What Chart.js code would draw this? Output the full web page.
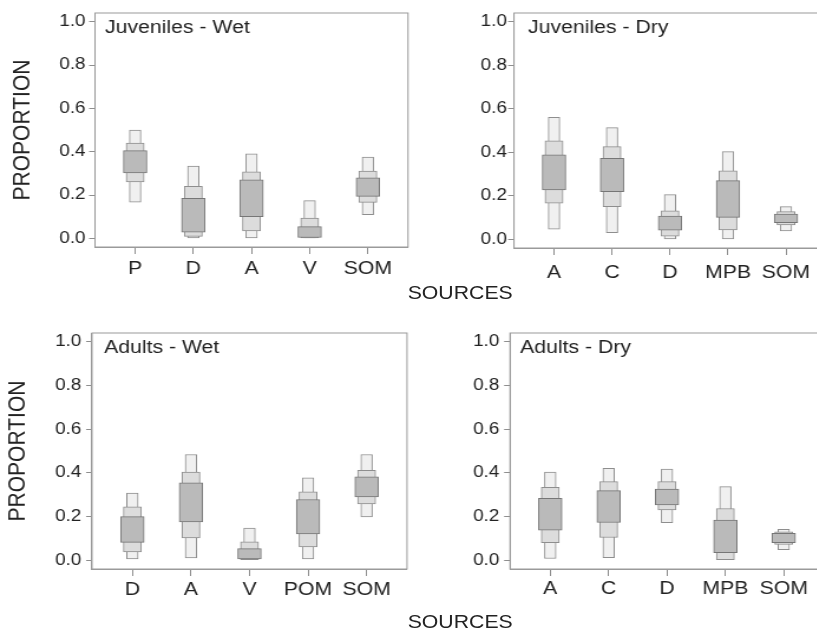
<!DOCTYPE html>
<html>
<head>
<meta charset="utf-8">
<title>Source proportions</title>
<script src="https://cdn.jsdelivr.net/npm/chart.js@4.4.0/dist/chart.umd.min.js"></script>
<style>
    html, body { margin: 0; padding: 0; background: #fff; width: 817px; height: 635px; overflow: hidden; }
    /* the original figure is stretched sideways, so the whole stage is too */
    #stage { position: absolute; left: 0; top: 0; width: 693px; height: 635px; transform: scaleX(1.18); transform-origin: 0 0; }
    .panel { position: absolute; }
    .xtitle { position: absolute; font: 18px "Liberation Sans", Arial, sans-serif; color: #222; transform: translate(-50%, -50%); white-space: nowrap; }
</style>
</head>
<body>
<div id="stage">
    <div class="panel" id="p1"><canvas id="c1"></canvas></div>
    <div class="panel" id="p2"><canvas id="c2"></canvas></div>
    <div class="panel" id="p3"><canvas id="c3"></canvas></div>
    <div class="panel" id="p4"><canvas id="c4"></canvas></div>
    <div class="xtitle" style="left:390px; top:293px">SOURCES</div>
    <div class="xtitle" style="left:390px; top:622px">SOURCES</div>
</div>
<script>
// credible intervals [low, high] per source: 95%, 75%, 50%
const jwSources = ["P", "D", "A", "V", "SOM"];
const jw95 = [[0.167, 0.50], [0.0, 0.333], [0.0, 0.39], [0.0, 0.174], [0.109, 0.375]];
const jw75 = [[0.26, 0.44], [0.009, 0.24], [0.034, 0.307], [0.002, 0.093], [0.166, 0.31]];
const jw50 = [[0.302, 0.405], [0.028, 0.185], [0.10, 0.27], [0.004, 0.054], [0.194, 0.279]];

const jdSources = ["A", "C", "D", "MPB", "SOM"];
const jd95 = [[0.046, 0.561], [0.03, 0.513], [0.0, 0.205], [0.0, 0.403], [0.038, 0.15]];
const jd75 = [[0.166, 0.453], [0.15, 0.426], [0.014, 0.131], [0.043, 0.315], [0.066, 0.127]];
const jd50 = [[0.227, 0.388], [0.219, 0.372], [0.042, 0.107], [0.101, 0.27], [0.076, 0.116]];

const awSources = ["D", "A", "V", "POM", "SOM"];
const aw95 = [[0.006, 0.308], [0.011, 0.484], [0.003, 0.147], [0.006, 0.377], [0.198, 0.484]];
const aw75 = [[0.038, 0.244], [0.102, 0.403], [0.003, 0.084], [0.061, 0.313], [0.258, 0.412]];
const aw50 = [[0.082, 0.20], [0.176, 0.354], [0.006, 0.053], [0.121, 0.278], [0.29, 0.382]];

const adSources = ["A", "C", "D", "MPB", "SOM"];
const ad95 = [[0.008, 0.403], [0.012, 0.421], [0.172, 0.417], [0.0, 0.337], [0.049, 0.142]];
const ad75 = [[0.081, 0.334], [0.104, 0.36], [0.23, 0.36], [0.003, 0.237], [0.072, 0.13]];
const ad50 = [[0.138, 0.283], [0.173, 0.319], [0.253, 0.326], [0.035, 0.184], [0.081, 0.123]];

const S = 1.18;
const FONT = '"Liberation Sans", Arial, sans-serif';
const TEXT = "#222";
const LINE = "#8e8e8e";

Chart.defaults.font.family = FONT;
Chart.defaults.color = TEXT;

const panelFrame = {
    id: "panelFrame",
    afterDraw(chart, args, opts) {
        const { ctx, chartArea: a } = chart;
        ctx.save();
        ctx.strokeStyle = "#9a9a9a";
        ctx.lineWidth = 1;
        ctx.strokeRect(a.left, a.top, a.right - a.left, a.bottom - a.top);
        ctx.font = "18px " + FONT;
        ctx.fillStyle = TEXT;
        ctx.textBaseline = "top";
        ctx.fillText(opts.text, a.left + opts.dx / S, a.top + opts.dy);
        ctx.restore();
    }
};

function level(name, pairs, fill, border, width) {
    return {
        label: name,
        data: pairs.map((p, i) => ({ x: i, y: p })),
        backgroundColor: fill,
        borderColor: border,
        borderWidth: 1,
        borderSkipped: false,
        barThickness: width / S,
        grouped: false
    };
}

// div: [left, top, width, height] on the stage; box: plot frame in screen pixels
function makePanel(id, title, sources, i95, i75, i50, lay) {
    const div = document.getElementById("p" + id);
    div.style.left = lay.div[0] + "px";
    div.style.top = lay.div[1] + "px";
    div.style.width = lay.div[2] + "px";
    div.style.height = lay.div[3] + "px";

    const axisW = lay.box[0] / S - lay.div[0];
    const padRight = lay.div[0] + lay.div[2] - lay.box[2] / S;
    const padTop = lay.box[1] - lay.div[1];
    const padBottom = lay.div[1] + lay.div[3] - lay.box[3] - 40;

    new Chart(document.getElementById("c" + id), {
        type: "bar",
        data: {
            datasets: [
                level("50%", i50, "#bababa", "#767676", 23.5),
                level("75%", i75, "#dcdcdc", LINE, 18),
                level("95%", i95, "#f0f0f0", LINE, 11.5)
            ]
        },
        options: {
            responsive: true,
            maintainAspectRatio: false,
            animation: false,
            layout: { padding: { left: 0, top: padTop, right: Math.max(padRight, 0), bottom: padBottom } },
            plugins: {
                legend: { display: false },
                tooltip: { enabled: false },
                panelFrame: { text: title, dx: lay.dx, dy: lay.dy }
            },
            scales: {
                x: {
                    type: "linear",
                    min: -0.69,
                    max: 4.69,
                    offset: false,
                    afterFit: s => { s.height = 40; },
                    grid: { offset: false, drawOnChartArea: false, drawTicks: true, tickLength: 7, color: LINE },
                    border: { display: true, color: "#9a9a9a" },
                    ticks: {
                        stepSize: 1,
                        includeBounds: false,
                        autoSkip: false,
                        maxRotation: 0,
                        padding: lay.xPad,
                        font: { size: 18 },
                        color: TEXT,
                        callback: v => sources[v] ?? ""
                    }
                },
                y: {
                    min: -0.04,
                    max: 1.04,
                    afterFit: s => { s.width = axisW; },
                    grid: { drawOnChartArea: false, drawTicks: true, tickLength: 5, color: LINE },
                    border: { display: true, color: "#9a9a9a" },
                    ticks: {
                        stepSize: 0.2,
                        includeBounds: false,
                        padding: lay.yPad,
                        font: { size: 16 },
                        color: TEXT,
                        callback: v => v.toFixed(1)
                    },
                    title: {
                        display: lay.yTitle,
                        text: "PROPORTION",
                        font: { size: 21 },
                        color: TEXT,
                        padding: { top: lay.yTitlePad || 0, bottom: 0 }
                    }
                }
            }
        },
        plugins: [panelFrame]
    });
}

makePanel(1, "Juveniles - Wet", jwSources, jw95, jw75, jw50,
    { div: [0, 0, 350, 300], box: [95, 13, 408, 247], yTitle: true, yTitlePad: 7, yPad: 3, xPad: 4, dx: 10, dy: 6.5 });
makePanel(2, "Juveniles - Dry", jdSources, jd95, jd75, jd50,
    { div: [350, 0, 350, 300], box: [514, 13, 826, 248], yTitle: false, yPad: 1, xPad: 7, dx: 14, dy: 6.5 });
makePanel(3, "Adults - Wet", awSources, aw95, aw75, aw50,
    { div: [0, 300, 350, 335], box: [92, 333, 407, 569], yTitle: true, yTitlePad: 2.5, yPad: 4, xPad: 3, dx: 12, dy: 6 });
makePanel(4, "Adults - Dry", adSources, ad95, ad75, ad50,
    { div: [350, 300, 350, 335], box: [510, 333, 824, 569], yTitle: false, yPad: 4, xPad: 2, dx: 10, dy: 6 });
</script>
</body>
</html>
